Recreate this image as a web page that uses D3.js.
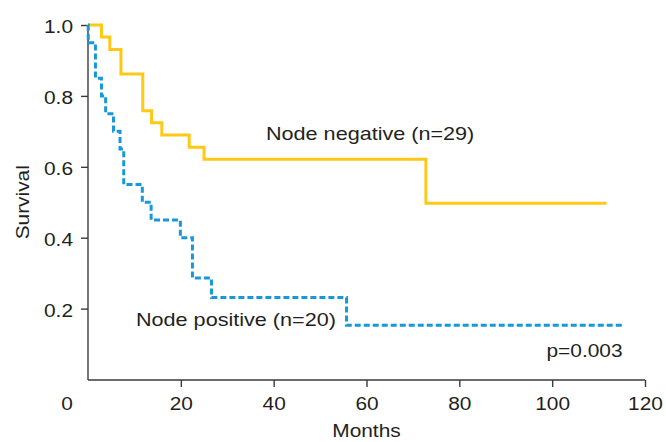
<!DOCTYPE html>
<html>
<head>
<meta charset="utf-8">
<script src="https://cdn.jsdelivr.net/npm/d3@7"></script>
<style>
  html, body { margin: 0; padding: 0; background: #ffffff; }
  svg { display: block; }
  text { font-family: "Liberation Sans", Arial, Helvetica, sans-serif; fill: #231f20; }
</style>
</head>
<body>
<svg id="chart" width="666" height="442"></svg>
<script>
// ---- data ----
const negTimes = [0, 2.9, 4.7, 7.1, 11.8, 13.7, 15.9, 21.8, 25.0, 72.8, 111.7];
const negSurv  = [1.0, 0.966, 0.931, 0.862, 0.758, 0.724, 0.690, 0.655, 0.621, 0.497, 0.497];
const posTimes = [0, 0.05, 1.6, 2.9, 3.8, 5.5, 6.9, 7.7, 11.7, 13.6, 19.9, 22.5, 26.6, 55.7, 115.3];
const posSurv  = [1.0, 0.95, 0.85, 0.80, 0.75, 0.70, 0.65, 0.55, 0.50, 0.45, 0.40, 0.286, 0.231, 0.153, 0.153];
const xTicks = [20, 40, 60, 80, 100, 120];
const yTicks = [0.2, 0.4, 0.6, 0.8, 1.0];
const labels = { neg: "Node negative (n=29)", pos: "Node positive (n=20)", p: "p=0.003", x: "Months", y: "Survival", origin: "0" };

// ---- layout ----
const svg = d3.select("#chart");
const SX = 1.16;       // horizontal stretch of the reference's type
const SXA = 1.2;       // stretch for the curve annotations
const FS = 18;
const x = d3.scaleLinear().domain([0, 120]).range([88, 645]);
const y = d3.scaleLinear().domain([0, 1]).range([379.5, 25]);
const axisColor = "#3a3a3a";

// axes
const gx = svg.append("g").attr("transform", "translate(0,380)")
  .call(d3.axisBottom(x).tickValues(xTicks).tickSize(7).tickSizeOuter(0).tickFormat(d3.format("d")));
gx.select(".domain").attr("d", `M${x(0)},0H${x(120)}`);
const gy = svg.append("g").attr("transform", "translate(88,0)")
  .call(d3.axisLeft(y).tickValues(yTicks).tickSize(7).tickSizeOuter(0).tickFormat(d3.format(".1f")));
gy.select(".domain").attr("d", `M0,${y(1)}V380`);

[gx, gy].forEach(g => {
  g.selectAll(".domain, .tick line").attr("stroke", axisColor).attr("stroke-width", 1.4);
  g.selectAll("text").attr("font-size", FS).attr("fill", "#231f20")
    .attr("font-family", "Liberation Sans, Arial, sans-serif");
});
gx.selectAll(".tick text").attr("y", 0).attr("dy", 0)
  .attr("transform", `translate(0,29.5) scale(${SX},1)`).attr("x", 0);
gy.selectAll(".tick text").attr("x", 0).attr("dy", 0)
  .attr("transform", `translate(-15,7.8) scale(${SX},1)`);

// stretched text helper
function label(txt, tx, ty, anchor, rot, sx) {
  return svg.append("text")
    .attr("transform", `translate(${tx},${ty})${rot ? " rotate(" + rot + ")" : ""} scale(${sx || SX},1)`)
    .attr("text-anchor", anchor || "start")
    .attr("font-size", FS)
    .text(txt);
}
label(labels.origin, x(0) - 21, 409.5, "middle");
label(labels.x, x(60), 437, "middle");
label(labels.y, 29, (y(0) + y(1)) / 2, "middle", -90);

// survival curves
const line = d3.line().x(d => x(d[0])).y(d => y(d[1])).curve(d3.curveStepAfter);
const negData = negTimes.map((t, i) => [t, negSurv[i]]);
const posData = posTimes.map((t, i) => [t, posSurv[i]]);

svg.append("path").datum(negData).attr("d", line)
  .attr("fill", "none").attr("stroke", "#fec914").attr("stroke-width", 3);
svg.append("path").datum(posData).attr("d", line)
  .attr("fill", "none").attr("stroke", "#1898d8").attr("stroke-width", 3)
  .attr("stroke-dasharray", "6,3");

// annotations
label(labels.neg, 266, 140, "start", 0, SXA);
label(labels.pos, 136, 325.5, "start", 0, SXA);
label(labels.p, 546.5, 357, "start");
</script>
</body>
</html>
